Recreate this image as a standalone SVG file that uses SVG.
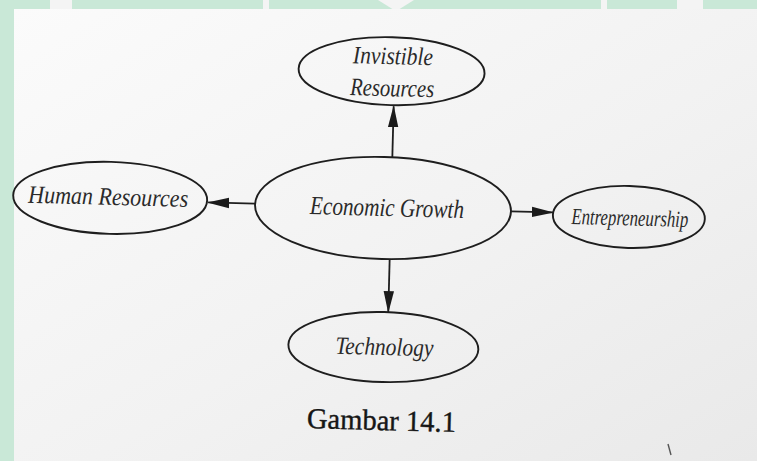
<svg xmlns="http://www.w3.org/2000/svg" width="757" height="461" viewBox="0 0 757 461">
  <defs>
    <linearGradient id="paper" x1="0" y1="0" x2="1" y2="1">
      <stop offset="0" stop-color="#fbfbfb"/>
      <stop offset="0.55" stop-color="#f2f2f2"/>
      <stop offset="1" stop-color="#e9e9e9"/>
    </linearGradient>
    <marker id="arrow" markerUnits="userSpaceOnUse" markerWidth="22" markerHeight="12" viewBox="0 0 22 12" refX="21" refY="6" orient="auto">
      <path d="M0,0.8 L22,6 L0,11.2 z" fill="#1b1b1b"/>
    </marker>
  </defs>
  <style>
    .node ellipse { fill: none; stroke: #1e1e1e; stroke-width: 1.9; }
    .label { font-family: "Liberation Serif", "Times New Roman", serif; font-style: italic; fill: #2a2a2a; text-anchor: middle; }
    .edge { fill: none; stroke: #1e1e1e; stroke-width: 1.8; marker-end: url(#arrow); }
    .caption { font-family: "Liberation Serif", "Times New Roman", serif; fill: #161616; stroke: #161616; stroke-width: 0.4; text-anchor: middle; }
  </style>

  <!-- green surround and the page -->
  <rect x="0" y="0" width="757" height="461" fill="#c9e8d7"/>
  <g fill="#f4f4f4">
    <rect x="50" y="0" width="22" height="10"/>
    <rect x="263" y="0" width="6" height="10"/>
    <path d="M378,0 L414,0 L398,10 L394,10 z"/>
    <rect x="601" y="0" width="6" height="10"/>
    <rect x="677" y="0" width="26" height="10"/>
  </g>
  <rect x="14" y="9" width="743" height="452" fill="url(#paper)"/>
  <path d="M668,444 L671,455" stroke="#555" stroke-width="1.4" fill="none"/>

  <g transform="rotate(1.5 383 208)">
    <!-- connectors -->
    <g id="connectors">
      <path class="edge" d="M391,157 L391,106"/>
      <path class="edge" d="M255,207 L208,207"/>
      <path class="edge" d="M511,208 L553,208"/>
      <path class="edge" d="M391,259 L391,312"/>
    </g>

    <g id="economic-growth" class="node">
      <ellipse cx="383" cy="208" rx="128" ry="51"/>
      <text class="label" x="387" y="216" font-size="26" textLength="154" lengthAdjust="spacingAndGlyphs">Economic Growth</text>
    </g>

    <g id="invisible-resources" class="node">
      <ellipse cx="388" cy="71" rx="93" ry="34"/>
      <text class="label" x="389" y="64" font-size="25" textLength="80" lengthAdjust="spacingAndGlyphs">Invistible</text>
      <text class="label" x="389" y="96" font-size="25" textLength="84" lengthAdjust="spacingAndGlyphs">Resources</text>
    </g>

    <g id="human-resources" class="node">
      <ellipse cx="110" cy="205" rx="97" ry="36"/>
      <text class="label" x="108" y="212" font-size="25" textLength="160" lengthAdjust="spacingAndGlyphs">Human Resources</text>
    </g>

    <g id="entrepreneurship" class="node">
      <ellipse cx="629" cy="210.5" rx="76" ry="31"/>
      <text class="label" x="630" y="219" font-size="23" textLength="117" lengthAdjust="spacingAndGlyphs" fill="#3a3a3a">Entrepreneurship</text>
    </g>

    <g id="technology" class="node">
      <ellipse cx="387" cy="347" rx="95" ry="35"/>
      <text class="label" x="388" y="355" font-size="25" textLength="98" lengthAdjust="spacingAndGlyphs">Technology</text>
    </g>

    <text class="caption" x="387" y="430" font-size="29" textLength="149" lengthAdjust="spacingAndGlyphs">Gambar 14.1</text>
  </g>
</svg>
